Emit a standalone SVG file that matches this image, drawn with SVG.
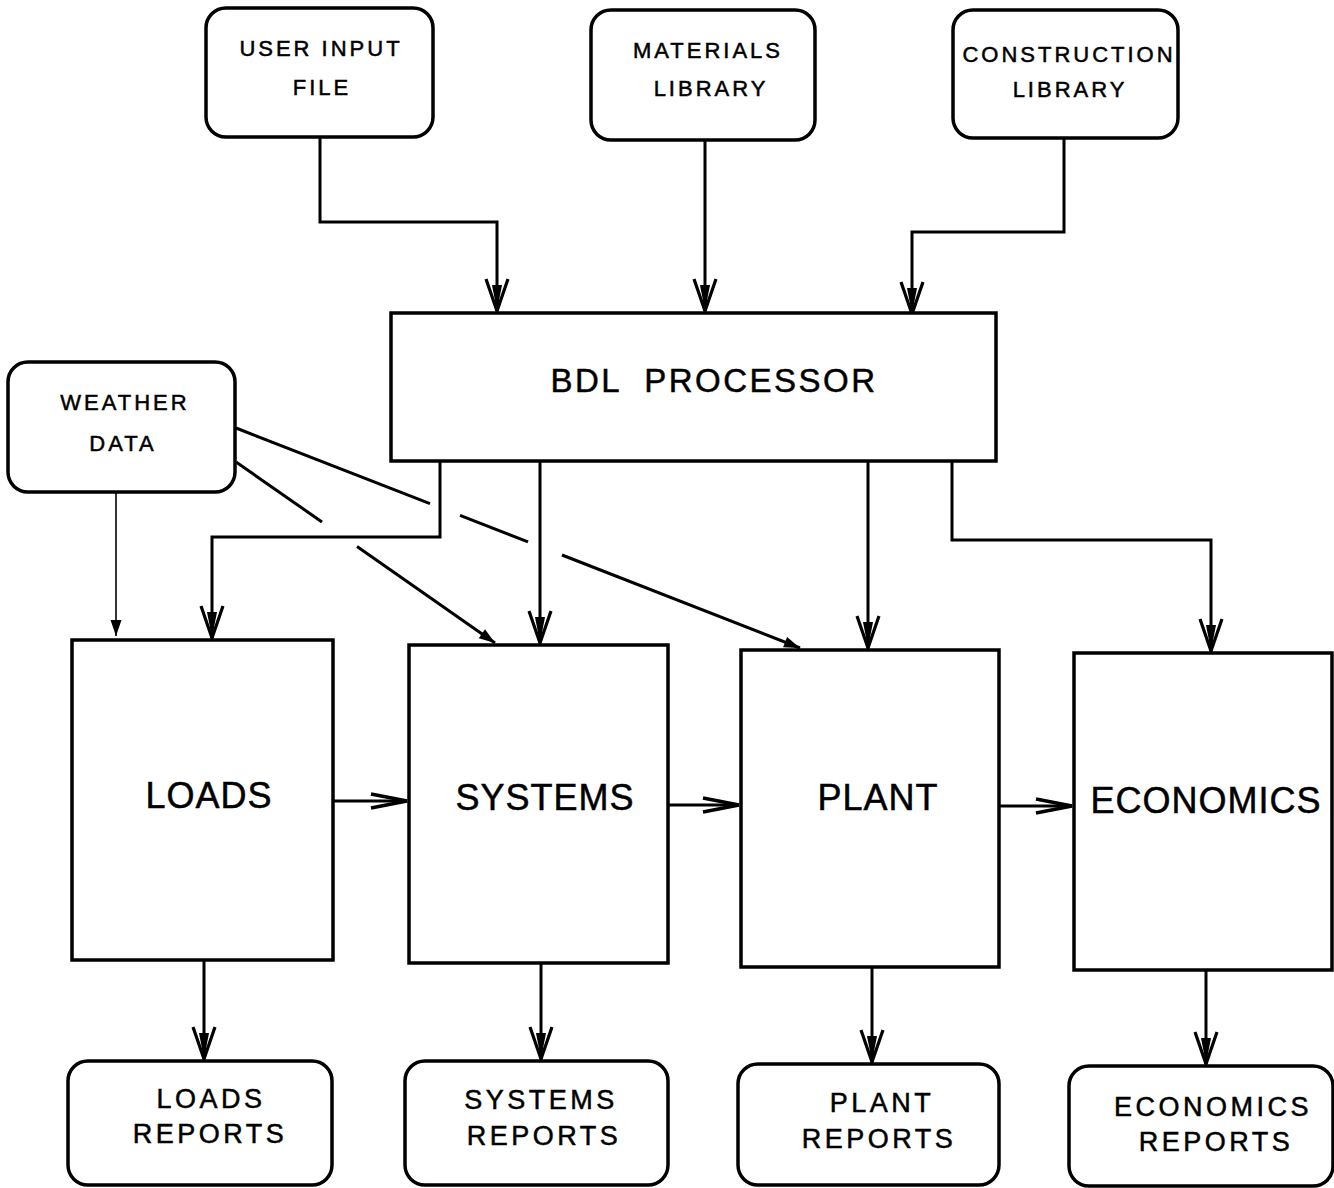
<svg xmlns="http://www.w3.org/2000/svg" width="1334" height="1188" viewBox="0 0 1334 1188">
<style>
.box{fill:#fff;stroke:#000;stroke-width:3.5}
.ln{fill:none;stroke:#000;stroke-width:3}
.thin{fill:none;stroke:#000;stroke-width:1.6}
.t{font-family:"Liberation Sans",Arial,sans-serif;fill:#000;stroke:#000;stroke-width:0.5;text-anchor:middle}
.s{font-size:22px;letter-spacing:3px}
.w{font-size:22px;letter-spacing:3px}
.r{font-size:27px;letter-spacing:3.5px}
.b{font-size:36px;letter-spacing:1px}
.p{font-size:33px;letter-spacing:2.5px}
</style>
<defs>
<marker id="av" markerUnits="userSpaceOnUse" viewBox="-36 -14 38 28" refX="0" refY="0" markerWidth="38" markerHeight="28" orient="auto">
<path d="M-32,-11 L0,0 L-32,11" fill="none" stroke="#000" stroke-width="3.2"/>
<path d="M0,0 L-26,-5 L-26,5 Z" fill="#000"/>
</marker>
<marker id="ah" markerUnits="userSpaceOnUse" viewBox="-40 -10 42 20" refX="0" refY="0" markerWidth="42" markerHeight="20" orient="auto">
<path d="M-36,-7 L0,0 L-36,7" fill="none" stroke="#000" stroke-width="3.5"/>
</marker>
<marker id="as" markerUnits="userSpaceOnUse" viewBox="-18 -7 20 14" refX="0" refY="0" markerWidth="20" markerHeight="14" orient="auto">
<path d="M0,0 L-16,-5.5 L-16,5.5 Z" fill="#000"/>
</marker>
</defs>
<rect width="1334" height="1188" fill="#fff"/>

<g id="connectors">
<path class="ln" d="M320,137 V222 H497 V311" marker-end="url(#av)"/>
<path class="ln" d="M705,140 V311" marker-end="url(#av)"/>
<path class="ln" d="M1064,138 V232 H912 V314" marker-end="url(#av)"/>
<path class="ln" d="M440,461 V537 H212 V638" marker-end="url(#av)"/>
<path class="ln" d="M540,461 V643" marker-end="url(#av)"/>
<path class="ln" d="M868,461 V648" marker-end="url(#av)"/>
<path class="ln" d="M952,461 V540 H1211 V651" marker-end="url(#av)"/>
<path class="thin" d="M116,492 V636" marker-end="url(#as)"/>
<line class="ln" x1="236" y1="428" x2="430" y2="503.7"/>
<line class="ln" x1="460" y1="515.4" x2="528" y2="541.9"/>
<line class="ln" x1="562" y1="555" x2="800" y2="648" marker-end="url(#as)"/>
<line class="ln" x1="236" y1="462" x2="322" y2="522"/>
<line class="ln" x1="357" y1="546.6" x2="495" y2="643" marker-end="url(#as)"/>
<path class="ln" d="M333,801 H407" marker-end="url(#ah)"/>
<path class="ln" d="M668,805 H739" marker-end="url(#ah)"/>
<path class="ln" d="M999,806 H1072" marker-end="url(#ah)"/>
<path class="ln" d="M204,960 V1059" marker-end="url(#av)"/>
<path class="ln" d="M541,963 V1059" marker-end="url(#av)"/>
<path class="ln" d="M872,967 V1062" marker-end="url(#av)"/>
<path class="ln" d="M1206,970 V1064" marker-end="url(#av)"/>
</g>

<g id="user-input">
<rect class="box" x="206" y="8" width="227" height="129" rx="20"/>
<text class="t s" x="321" y="56">USER INPUT</text>
<text class="t s" x="322" y="95">FILE</text>
</g>
<g id="materials">
<rect class="box" x="591" y="10" width="224" height="130" rx="20"/>
<text class="t s" x="708" y="58">MATERIALS</text>
<text class="t s" x="711" y="96">LIBRARY</text>
</g>
<g id="construction">
<rect class="box" x="953" y="10" width="225" height="128" rx="20"/>
<text class="t s" x="1069" y="62">CONSTRUCTION</text>
<text class="t s" x="1070" y="97">LIBRARY</text>
</g>
<g id="bdl">
<rect class="box" x="391" y="313" width="605" height="148"/>
<text class="t p" x="714" y="392" xml:space="preserve">BDL  PROCESSOR</text>
</g>
<g id="weather">
<rect class="box" x="8" y="362" width="227" height="130" rx="20"/>
<text class="t w" x="125" y="410">WEATHER</text>
<text class="t w" x="123" y="451">DATA</text>
</g>
<g id="loads">
<rect class="box" x="72" y="640" width="261" height="320"/>
<text class="t b" x="209" y="808">LOADS</text>
</g>
<g id="systems">
<rect class="box" x="409" y="645" width="259" height="318"/>
<text class="t b" x="545" y="810">SYSTEMS</text>
</g>
<g id="plant">
<rect class="box" x="741" y="650" width="258" height="317"/>
<text class="t b" x="878" y="810">PLANT</text>
</g>
<g id="economics">
<rect class="box" x="1074" y="653" width="258" height="317"/>
<text class="t b" x="1206" y="813">ECONOMICS</text>
</g>
<g id="loads-reports">
<rect class="box" x="68" y="1061" width="264" height="124" rx="20"/>
<text class="t r" x="211" y="1108">LOADS</text>
<text class="t r" x="210" y="1143">REPORTS</text>
</g>
<g id="systems-reports">
<rect class="box" x="405" y="1061" width="263" height="124" rx="20"/>
<text class="t r" x="541" y="1109">SYSTEMS</text>
<text class="t r" x="544" y="1145">REPORTS</text>
</g>
<g id="plant-reports">
<rect class="box" x="738" y="1064" width="261" height="121" rx="20"/>
<text class="t r" x="882" y="1112">PLANT</text>
<text class="t r" x="879" y="1148">REPORTS</text>
</g>
<g id="economics-reports">
<rect class="box" x="1069" y="1066" width="264" height="120" rx="20"/>
<text class="t r" x="1213" y="1116">ECONOMICS</text>
<text class="t r" x="1216" y="1151">REPORTS</text>
</g>
</svg>
